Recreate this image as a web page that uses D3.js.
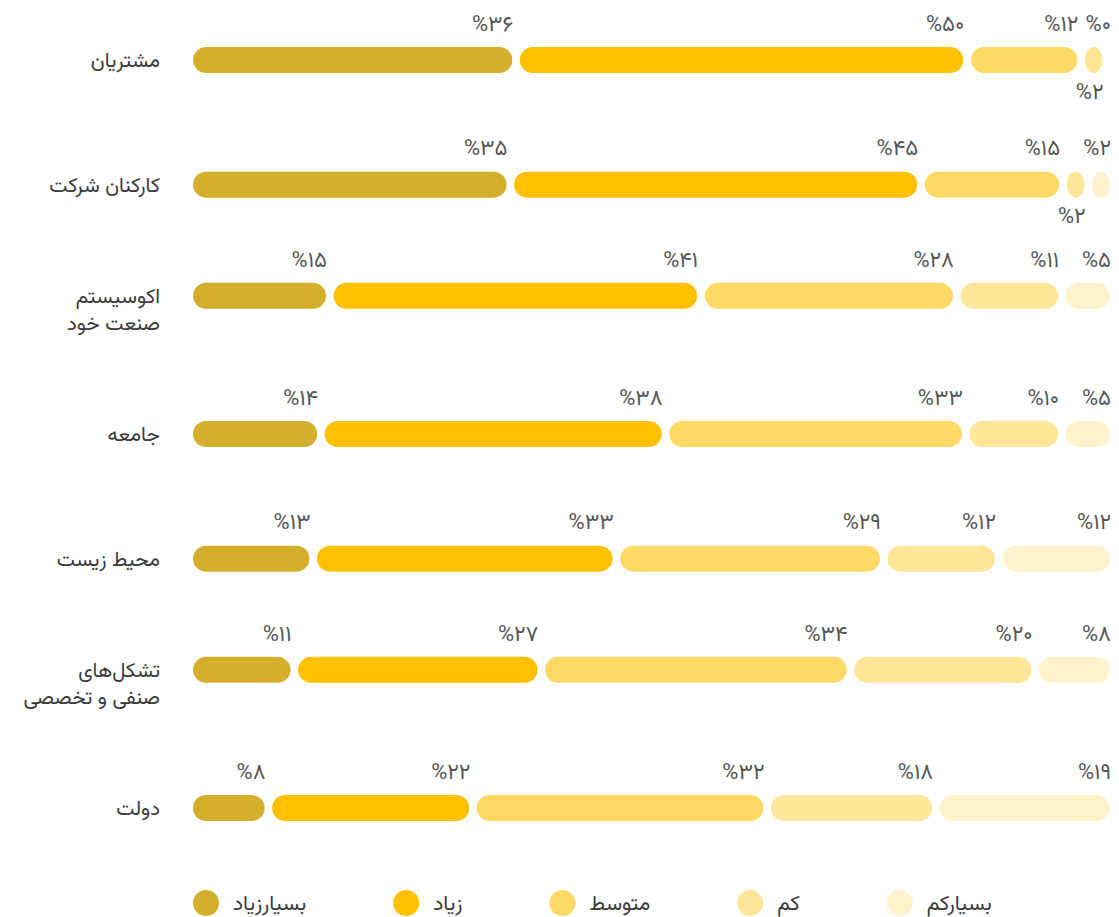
<!DOCTYPE html>
<html><head><meta charset="utf-8">
<script src="https://cdn.jsdelivr.net/npm/d3@7/dist/d3.min.js"></script>
<style>
html,body{margin:0;padding:0;background:#fff;}
svg{display:block;}
text{font-family:Vazirmatn,"Noto Sans Arabic","DejaVu Sans",sans-serif;}
</style></head>
<body>
<svg id="chart" width="1119" height="917"></svg>
<script>
const categories = ["مشتریان", "کارکنان شرکت", "اکوسیستم\nصنعت خود", "جامعه", "محیط زیست", "تشکل‌های\nصنفی و تخصصی", "دولت"];
const seriesNames = ["بسیارزیاد", "زیاد", "متوسط", "کم", "بسیارکم"];
const veryHigh = [36, 35, 15, 14, 13, 11, 8];
const high     = [50, 45, 41, 38, 33, 27, 22];
const medium   = [12, 15, 28, 33, 29, 34, 32];
const low      = [2, 2, 11, 10, 12, 20, 18];
const veryLow  = [0, 2, 5, 5, 12, 8, 19];
const colors = ["#D4AF2C", "#FFC000", "#FFD966", "#FFE699", "#FFF2CC"];

const series = [veryHigh, high, medium, low, veryLow];
const toFa = n => String(n).replace(/\d/g, d => "۰۱۲۳۴۵۶۷۸۹"[+d]);

const svg = d3.select("#chart");
const x0 = 193, x1 = 1110, gap = 7.5, barH = 26, lineH = 27;
const y = d3.scalePoint().domain(categories).range([60, 808]);

categories.forEach((cat, i) => {
  const lines = cat.split("\n");
  const cy = y(cat) - (lines.length - 1) * lineH / 2;
  const vals = series.map(s => s[i]);
  const total = d3.sum(vals);
  const nGaps = vals.length - 1;
  const xs = d3.scaleLinear().domain([0, total]).range([0, (x1 - x0) - nGaps * gap]);
  const g = svg.append("g");

  // row label (rtl: anchor "start" = right edge)
  lines.forEach((l, k) => {
    g.append("text")
      .attr("x", 160).attr("y", cy + k * lineH).attr("dy", "0.35em")
      .attr("direction", "rtl").attr("text-anchor", "start")
      .attr("font-size", 20.5).attr("fill", "#3a3a3a")
      .text(l);
  });

  let cum = 0;
  let lastTopEnd = -Infinity;
  vals.forEach((v, j) => {
    const start = x0 + xs(cum) + j * gap;
    const w = xs(v);
    cum += v;
    if (w > 0) {
      g.append("rect")
        .attr("x", start).attr("y", cy - barH / 2)
        .attr("width", w).attr("height", barH)
        .attr("rx", Math.min(barH / 2, w / 2)).attr("ry", barH / 2)
        .attr("fill", colors[j]);
    }
    const endX = Math.min(start + w + 1, x1 + 3);
    const t = g.append("text")
      .attr("x", endX).attr("y", cy - 37)
      .attr("text-anchor", "end")
      .attr("font-size", 22).attr("letter-spacing", 1).attr("fill", "#555")
      .attr("dy", "0.35em")
      .text("%" + toFa(v));
    const tw = t.node().getComputedTextLength();
    if (endX - tw < lastTopEnd + 2) {
      t.attr("y", cy + 31);
    } else {
      lastTopEnd = endX;
    }
  });
});

// legend
const legend = svg.append("g");
let lx = 193;
seriesNames.forEach((name, j) => {
  legend.append("circle").attr("cx", lx + 13).attr("cy", 903).attr("r", 13).attr("fill", colors[j]);
  const t = legend.append("text").attr("x", lx + 40).attr("y", 903).attr("dy", "0.35em")
    .attr("direction", "rtl").attr("text-anchor", "end")
    .attr("font-size", 21).attr("fill", "#3a3a3a").text(name);
  const tw = t.node().getComputedTextLength();
  lx = lx + 40 + tw + 87;
});
</script>
</body></html>
